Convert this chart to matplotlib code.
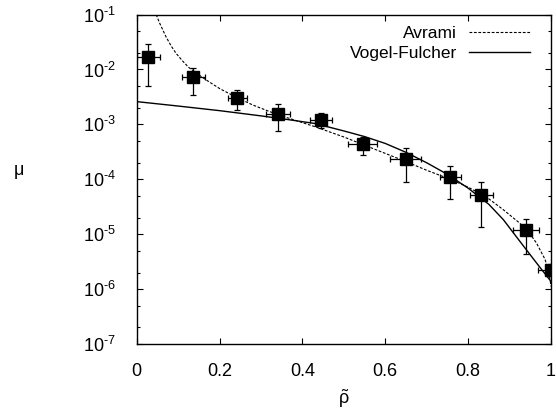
import numpy as np
from matplotlib import pyplot as plt
from matplotlib.ticker import FixedLocator, FuncFormatter, NullFormatter

plt.rcParams['font.family'] = ['Liberation Sans', 'DejaVu Sans']
plt.rcParams['mathtext.fontset'] = 'custom'
plt.rcParams['mathtext.rm'] = 'Liberation Sans'
plt.rcParams['mathtext.it'] = 'Liberation Sans'

# measured points with error bars
rho = [0.028, 0.137, 0.243, 0.342, 0.445, 0.545, 0.649, 0.757, 0.832, 0.940, 0.999]
mu = [1.67e-2, 7.2e-3, 3.0e-3, 1.53e-3, 1.19e-3, 4.4e-4, 2.33e-4, 1.08e-4, 5.2e-5, 1.17e-5, 2.2e-6]
mu_hi = [2.9e-2, 1.05e-2, 4.2e-3, 2.4e-3, 1.58e-3, 6.0e-4, 3.7e-4, 1.76e-4, 9.1e-5, 1.9e-5, 2.9e-6]
mu_lo = [5.1e-3, 3.5e-3, 1.84e-3, 7.6e-4, 8.5e-4, 2.8e-4, 9.1e-5, 4.4e-5, 1.33e-5, 4.3e-6, 1.7e-6]
rho_err = [0.028, 0.028, 0.022, 0.029, 0.027, 0.036, 0.038, 0.025, 0.028, 0.032, 0.03]

# Avrami fit curve
avr_x = [0.047, 0.055, 0.0707, 0.083, 0.095, 0.11, 0.125, 0.143, 0.167, 0.20, 0.24, 0.28,
         0.32, 0.36, 0.43, 0.50, 0.58, 0.65, 0.70, 0.76, 0.80, 0.845, 0.885, 0.925,
         0.95, 0.965, 0.9855, 0.995, 1.0]
avr_y = [1.0e-1, 7.08e-2, 3.94e-2, 2.69e-2, 1.97e-2, 1.45e-2, 1.10e-2, 8.7e-3, 6.5e-3,
         4.5e-3, 3.13e-3, 2.26e-3, 1.72e-3, 1.35e-3, 9.1e-4, 5.9e-4, 3.4e-4, 2.1e-4,
         1.46e-4, 9.8e-5, 7.2e-5, 4.7e-5, 2.79e-5, 1.58e-5, 1.0e-5, 6.9e-6, 3.5e-6,
         2.0e-6, 1.12e-6]

# Vogel-Fulcher fit curve
vf_x = [0.0, 0.1, 0.2, 0.3, 0.36, 0.43, 0.5, 0.55, 0.6, 0.65, 0.7, 0.75, 0.8, 0.85,
        0.885, 0.925, 0.965, 1.0]
vf_y = [2.60e-3, 2.16e-3, 1.78e-3, 1.43e-3, 1.24e-3, 1.04e-3, 7.6e-4, 6.0e-4, 4.5e-4,
        3.1e-4, 2.0e-4, 1.23e-4, 6.9e-5, 3.5e-5, 1.84e-5, 7.4e-6, 3.0e-6, 1.38e-6]

xticks = [0, 0.2, 0.4, 0.6, 0.8, 1]
xticklabels = ['0', '0.2', '0.4', '0.6', '0.8', '1']
ydecades = [-7, -6, -5, -4, -3, -2, -1]

fig = plt.figure(figsize=(5.56, 4.17), dpi=100)
ax = fig.add_axes([0.2459, 0.175, 0.991 - 0.2459, 0.965 - 0.175])

ax.plot(avr_x, avr_y, color='black', lw=0.8, linestyle=(0, (2.5, 1.5)), label='Avrami')
ax.plot(vf_x, vf_y, color='black', lw=1.0, label='Vogel-Fulcher')

yerr = [np.array(mu) - np.array(mu_lo), np.array(mu_hi) - np.array(mu)]
ax.errorbar(rho, mu, yerr=yerr, xerr=rho_err, fmt='s', color='black', ms=8.6,
            ecolor='black', elinewidth=0.9, capsize=2.3, capthick=0.9)

ax.set_yscale('log')
ax.set_xlim(0, 1)
ax.set_ylim(1e-7, 1e-1)

ax.xaxis.set_major_locator(FixedLocator(xticks))
ax.set_xticklabels(xticklabels)
ax.yaxis.set_major_locator(FixedLocator([10.0 ** d for d in ydecades]))
ax.yaxis.set_major_formatter(
    FuncFormatter(lambda v, p: r'$10^{\text{%d}}$' % round(np.log10(v))))
minors = [m * 10.0 ** d for d in ydecades[:-1] for m in (2, 5)]
ax.yaxis.set_minor_locator(FixedLocator(minors))
ax.yaxis.set_minor_formatter(NullFormatter())

ax.tick_params(which='both', direction='in', top=True, right=True, labelsize=13,
               width=0.8)
ax.tick_params(axis='x', pad=14)
ax.tick_params(axis='y', pad=15)
ax.tick_params(which='major', length=4)
ax.tick_params(which='minor', length=2)
for s in ax.spines.values():
    s.set_linewidth(1.0)

ax.set_xlabel(r'$\tilde{\rho}$', fontsize=13, labelpad=5)
ax.set_ylabel('\u03bc', fontsize=13, rotation=0, labelpad=46)

leg = ax.legend(loc='upper right', bbox_to_anchor=(0.949, 0.966), frameon=False,
                markerfirst=False, fontsize=12.5, handlelength=3.5, handletextpad=0.7,
                borderpad=0, borderaxespad=0, labelspacing=0.3)

fig.savefig('out.png', dpi=100)
